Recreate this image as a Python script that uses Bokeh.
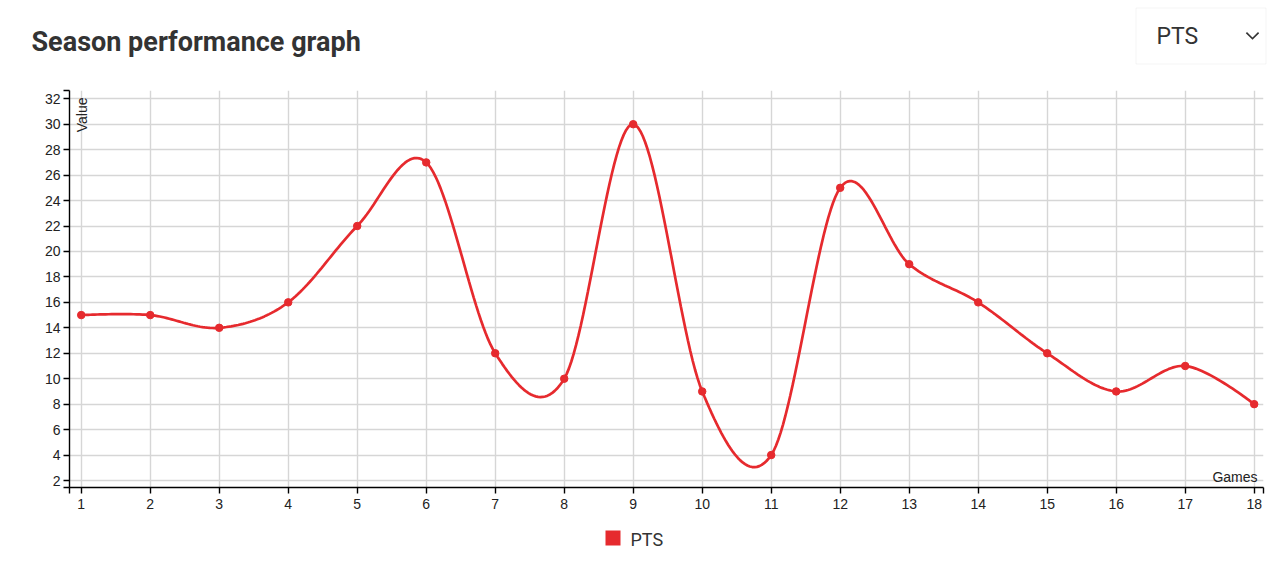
import numpy as np
from bokeh.plotting import figure
from bokeh.layouts import column
from bokeh.models import (Label, BoxAnnotation, PolyAnnotation, FixedTicker,
                          Range1d, ColumnDataSource)
from bokeh.embed import file_html
from bokeh.resources import INLINE

# ---- data ----
games = list(range(1, 19))
pts = [15, 15, 14, 16, 22, 27, 12, 10, 30, 9, 4, 25, 19, 16, 12, 9, 11, 8]
y_ticks = list(range(2, 33, 2))
series_name = "PTS"
title_text = "Season performance graph"
x_label = "Games"
y_label = "Value"

RED = "#e62a2e"
TXT = "#333333"
W = 1280
HEAD_H, MAIN_H, FOOT_H = 80, 440, 40


def cardinal_path(xs, ys, n=30, k=1.0 / 6.0):
    """d3.curveCardinal (tension 0) rendered as sampled cubic beziers."""
    P = np.column_stack([xs, ys]).astype(float)
    m = len(P)
    out = [P[0]]
    t = np.linspace(0, 1, n)[1:, None]
    for i in range(m - 1):
        p1, p2 = P[i], P[i + 1]
        c1 = p1 if i == 0 else p1 + k * (p2 - P[i - 1])
        c2 = p2 if i + 2 >= m else p2 + k * (p1 - P[i + 2])
        seg = ((1 - t) ** 3) * p1 + 3 * ((1 - t) ** 2) * t * c1 + 3 * (1 - t) * t ** 2 * c2 + t ** 3 * p2
        out.extend(seg)
    out = np.array(out)
    return out[:, 0], out[:, 1]


def blank(h, y_top):
    """A decoration strip whose data coords equal page pixels."""
    f = figure(width=W, height=h, output_backend="svg", toolbar_location=None,
               x_range=Range1d(0, W), y_range=Range1d(y_top + h, y_top),
               x_axis_type=None, y_axis_type=None,
               min_border_left=0, min_border_right=0, min_border_top=0, min_border_bottom=0)
    f.frame_align = False
    f.outline_line_color = None
    f.grid.visible = False
    f.background_fill_color = "white"
    f.border_fill_color = "white"
    return f


# ---- header: title + dropdown ----
head = blank(HEAD_H, 0)
head.add_layout(Label(x=31, y=41, text=title_text, text_align="left", text_baseline="alphabetic",
                      text_font="Roboto", text_font_style="bold", text_font_size="27px",
                      text_color=TXT))
head.add_layout(BoxAnnotation(left=1135.5, right=1265.5, top=7.5, bottom=63.5,
                              fill_color="white", fill_alpha=1.0,
                              line_color="#dddddd", line_width=1))
head.add_layout(Label(x=1156, y=35.5, text=series_name, text_align="left", text_baseline="alphabetic",
                      text_font="Roboto", text_font_size="23px", text_color=TXT))
chev = [(1245.3, 32.7), (1252, 39.3), (1258.7, 32.7), (1257.5, 31.4), (1252, 36.9), (1246.5, 31.4)]
head.add_layout(PolyAnnotation(xs=[a for a, b in chev], ys=[b for a, b in chev],
                               fill_color=TXT, fill_alpha=1.0, line_color=None))

# ---- main chart ----
x0, x1 = 0.83, 18.135
y0, y1 = 1.45, 32.65

p = figure(width=W, height=MAIN_H, output_backend="svg", toolbar_location=None,
           x_range=Range1d(x0, x1), y_range=Range1d(y0, y1),
           min_border_left=69, min_border_right=17, min_border_top=10, min_border_bottom=33)
p.frame_align = False
p.outline_line_color = None
p.background_fill_color = "white"
p.border_fill_color = "white"

for ax in (p.xaxis[0], p.yaxis[0]):
    ax.axis_line_color = "black"
    ax.axis_line_width = 1.4
    ax.major_tick_line_color = "black"
    ax.major_tick_line_width = 1.4
    ax.major_tick_out = 6
    ax.major_tick_in = 0
    ax.minor_tick_line_color = "black"
    ax.minor_tick_line_width = 1.4
    ax.minor_tick_out = 6
    ax.minor_tick_in = 0
    ax.major_label_text_font = "Liberation Sans"
    ax.major_label_text_font_size = "14px"
    ax.major_label_text_color = "#222222"

p.xaxis[0].ticker = FixedTicker(ticks=games, minor_ticks=[x0 + 0.0005, x1 - 0.0005])
p.yaxis[0].ticker = FixedTicker(ticks=y_ticks, minor_ticks=[y0 + 0.0005, y1 - 0.0005])
p.xaxis[0].major_label_standoff = 5
p.yaxis[0].major_label_standoff = 3

for g in (p.xgrid[0], p.ygrid[0]):
    g.grid_line_color = "#d6d6d6"
    g.grid_line_width = 1.4

cx, cy = cardinal_path(games, pts)
p.line(cx, cy, line_color=RED, line_width=2.7)
src = ColumnDataSource(dict(x=games, y=pts))
p.scatter("x", "y", source=src, size=7.5, fill_color=RED, line_color=RED)

# axis labels inside the frame (frame: page x 69..1263, y 90..487)
FX, FY = 69, 487
p.add_layout(Label(x=1257 - FX, y=FY - 476, x_units="screen", y_units="screen", text=x_label,
                   text_align="right", text_baseline="alphabetic", text_font="Liberation Sans",
                   text_font_size="14px", text_color="#222222"))
p.add_layout(Label(x=81 - FX, y=FY - 97, x_units="screen", y_units="screen", text=y_label,
                   angle=np.pi / 2, text_align="right", text_baseline="alphabetic",
                   text_font="Liberation Sans", text_font_size="14px", text_color="#222222"))

# ---- footer: legend ----
foot = blank(FOOT_H, HEAD_H + MAIN_H)
foot.add_layout(BoxAnnotation(left=605, right=620, top=530, bottom=545,
                              fill_color=RED, fill_alpha=1.0, line_color=None))
foot.add_layout(Label(x=630, y=538.5, text=series_name, text_align="left", text_baseline="alphabetic",
                      text_font="Roboto", text_font_size="18px", text_color=TXT))

layout = column(head, p, foot, spacing=0)
open("out.html", "w").write(file_html(layout, INLINE))
